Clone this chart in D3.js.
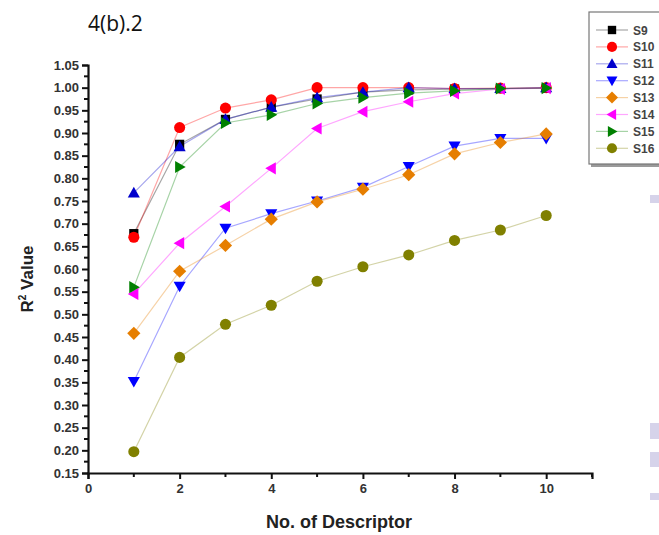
<!DOCTYPE html>
<html>
<head>
<meta charset="utf-8">
<script src="https://cdn.jsdelivr.net/npm/d3@7"></script>
<style>
  body { margin: 0; background: #fff; }
  .tick text { font-family: Arial, "Liberation Sans", sans-serif; font-weight: bold; font-size: 13px; fill: #333; }
</style>
</head>
<body>
<div id="chart"></div>
<script>
// chart size
var svgWidth = 659;
var svgHeight = 535;

// data
var descriptors = [1, 2, 3, 4, 5, 6, 7, 8, 9, 10];
var seriesNames = ["S9", "S10", "S11", "S12", "S13", "S14", "S15", "S16"];
var s9  = [0.678, 0.875, 0.930, 0.957, 0.975, 0.990, 0.995, 0.997, 0.998, 0.999];
var s10 = [0.670, 0.912, 0.955, 0.973, 1.000, 1.000, 1.000, 0.998, 0.999, 1.000];
var s11 = [0.768, 0.870, 0.930, 0.957, 0.978, 0.990, 1.000, 0.998, 0.998, 1.000];
var s12 = [0.352, 0.562, 0.690, 0.722, 0.750, 0.780, 0.826, 0.871, 0.888, 0.888];
var s13 = [0.458, 0.595, 0.652, 0.710, 0.748, 0.776, 0.808, 0.854, 0.879, 0.898];
var s14 = [0.545, 0.657, 0.738, 0.822, 0.910, 0.947, 0.969, 0.987, 0.997, 0.999];
var s15 = [0.560, 0.825, 0.922, 0.940, 0.965, 0.978, 0.988, 0.993, 0.998, 0.999];
var s16 = [0.197, 0.405, 0.478, 0.520, 0.573, 0.605, 0.631, 0.663, 0.686, 0.718];
var seriesValues = [s9, s10, s11, s12, s13, s14, s15, s16];
var xTicks = [0, 2, 4, 6, 8, 10];
var yTicks = [0.15, 0.20, 0.25, 0.30, 0.35, 0.40, 0.45, 0.50, 0.55, 0.60, 0.65, 0.70,
              0.75, 0.80, 0.85, 0.90, 0.95, 1.00, 1.05];

// styles per series
var colors = ["#000000", "#ff0000", "#0000cc", "#0000ff", "#e67e00", "#ff00ff", "#008000", "#808000"];
var shapes = ["square", "circle", "up", "down", "diamond", "left", "right", "circle"];

var svg = d3.select("#chart")
  .append("svg")
  .attr("width", svgWidth)
  .attr("height", svgHeight);

var xScale = d3.scaleLinear().domain([0, 11]).range([88, 592]);
var yScale = d3.scaleLinear().domain([0.15, 1.05]).range([473, 65]);

// marker path builder
function marker(shape, s) {
  if (shape === "square") return d3.symbol().type(d3.symbolSquare).size(s * s * 0.7)();
  if (shape === "circle") return d3.symbol().type(d3.symbolCircle).size(s * s * 0.8)();
  if (shape === "diamond") {
    var r = s * 0.6;
    return `M0,${-r}L${r},0L0,${r}L${-r},0Z`;
  }
  var h = s * 0.55;
  if (shape === "up") return `M0,${-h}L${h},${h * 0.75}L${-h},${h * 0.75}Z`;
  if (shape === "down") return `M0,${h}L${h},${-h * 0.75}L${-h},${-h * 0.75}Z`;
  if (shape === "left") return `M${-h},0L${h * 0.75},${-h}L${h * 0.75},${h}Z`;
  return `M${h},0L${-h * 0.75},${-h}L${-h * 0.75},${h}Z`;
}

// title
svg.append("text")
  .attr("x", 88)
  .attr("y", 31)
  .style("font-family", "'Open Sans', Lato, sans-serif")
  .style("font-size", "21px")
  .style("fill", "#111")
  .text("4(b).2");

// light watermark blocks at the right edge
var wm = [[650, 195, 9, 8], [650, 423, 9, 16], [650, 452, 9, 15], [650, 493, 9, 7]];
svg.selectAll("rect.wm")
  .data(wm)
  .enter()
  .append("rect")
  .attr("class", "wm")
  .attr("x", d => d[0]).attr("y", d => d[1])
  .attr("width", d => d[2]).attr("height", d => d[3])
  .attr("fill", "#d6d3ea");

// lines
var line = d3.line()
  .x((d, i) => xScale(descriptors[i]))
  .y(d => yScale(d));

seriesValues.forEach(function(vals, k) {
  svg.append("path")
    .datum(vals)
    .attr("d", line)
    .attr("fill", "none")
    .attr("stroke", colors[k])
    .attr("stroke-opacity", 0.35)
    .attr("stroke-width", 1.2);
});

// markers
seriesValues.forEach(function(vals, k) {
  svg.append("g")
    .selectAll("path")
    .data(vals)
    .enter()
    .append("path")
    .attr("d", marker(shapes[k], 11))
    .attr("transform", (d, i) => `translate(${xScale(descriptors[i])},${yScale(d)})`)
    .attr("fill", colors[k]);
});

// axes
var xAxis = d3.axisBottom(xScale).tickValues(xTicks).tickFormat(d3.format("d")).tickSize(6).tickPadding(5);
var yAxis = d3.axisLeft(yScale).tickValues(yTicks).tickFormat(d3.format(".2f")).tickSize(6).tickPadding(3);

var gx = svg.append("g")
  .attr("transform", `translate(0, 473)`)
  .call(xAxis);
var gy = svg.append("g")
  .attr("transform", `translate(88, 0)`)
  .call(yAxis);

[gx, gy].forEach(function(g) {
  g.select(".domain").attr("stroke", "#111").attr("stroke-width", 2.2);
  g.selectAll(".tick line").attr("stroke", "#111").attr("stroke-width", 2);
});

// minor ticks
var xMinor = d3.range(1, 12, 2);
svg.append("g").selectAll("line")
  .data(xMinor)
  .enter()
  .append("line")
  .attr("x1", d => xScale(d)).attr("x2", d => xScale(d))
  .attr("y1", 473).attr("y2", 477)
  .attr("stroke", "#111").attr("stroke-width", 2);

var yMinor = d3.range(0, 18).map(i => 0.175 + i * 0.05);
svg.append("g").selectAll("line")
  .data(yMinor)
  .enter()
  .append("line")
  .attr("x1", 84).attr("x2", 88)
  .attr("y1", d => yScale(d)).attr("y2", d => yScale(d))
  .attr("stroke", "#111").attr("stroke-width", 2);

// axis titles
svg.append("text")
  .attr("x", 339)
  .attr("y", 528)
  .attr("text-anchor", "middle")
  .style("font-family", "Arial, 'Liberation Sans', sans-serif")
  .style("font-weight", "bold")
  .style("font-size", "18px")
  .style("fill", "#222")
  .text("No. of Descriptor");

var yTitle = svg.append("text")
  .attr("transform", "translate(33, 279) rotate(-90)")
  .attr("text-anchor", "middle")
  .style("font-family", "Arial, 'Liberation Sans', sans-serif")
  .style("font-weight", "bold")
  .style("font-size", "17px")
  .style("fill", "#222");
yTitle.append("tspan").text("R");
yTitle.append("tspan").attr("dy", -7).style("font-size", "10px").text("2");
yTitle.append("tspan").attr("dy", 7).text(" Value");

// legend
var legend = svg.append("g");
legend.append("rect")
  .attr("x", 591).attr("y", 14)
  .attr("width", 80).attr("height", 153)
  .attr("fill", "#9a9a9a");
legend.append("rect")
  .attr("x", 589).attr("y", 12)
  .attr("width", 80).attr("height", 152)
  .attr("fill", "#fff")
  .attr("stroke", "#777")
  .attr("stroke-width", 1.2);

var items = legend.selectAll("g.item")
  .data(seriesNames)
  .enter()
  .append("g")
  .attr("class", "item")
  .attr("transform", (d, i) => `translate(0, ${30 + i * 16.9})`);

items.append("line")
  .attr("x1", 596).attr("x2", 628)
  .attr("stroke", (d, i) => colors[i])
  .attr("stroke-opacity", 0.35)
  .attr("stroke-width", 1.2);

items.append("path")
  .attr("d", (d, i) => marker(shapes[i], 10))
  .attr("transform", "translate(612, 0)")
  .attr("fill", (d, i) => colors[i]);

items.append("text")
  .attr("x", 633)
  .attr("dy", 4.5)
  .style("font-family", "Arial, 'Liberation Sans', sans-serif")
  .style("font-weight", "bold")
  .style("font-size", "12px")
  .style("fill", "#444")
  .text(d => d);
</script>
</body>
</html>
